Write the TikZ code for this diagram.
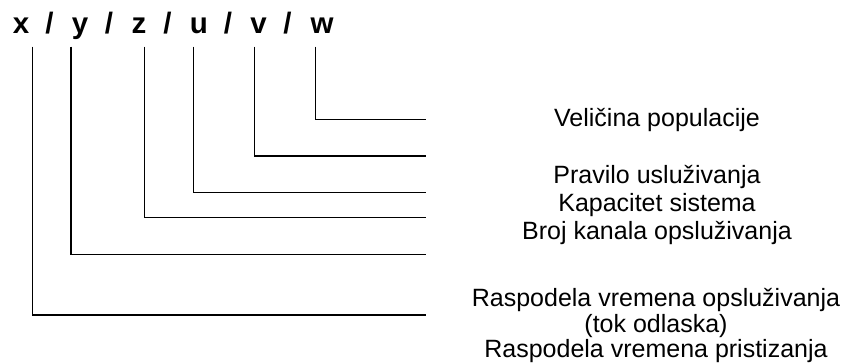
\documentclass[tikz,border=0pt]{standalone}
\usepackage{fontspec}
\setmainfont{Liberation Sans}
\begin{document}
\begin{tikzpicture}[x=1pt,y=-1pt,
  head/.style={inner sep=0pt,anchor=base,font=\fontsize{29.5}{32}\selectfont\bfseries},
  lab/.style={inner sep=0pt,anchor=base,font=\fontsize{25}{28.3}\selectfont},
  leader/.style={line width=1.3pt,line join=miter}]
\useasboundingbox (0,0) rectangle (845,363);
% header
\node[head] (hx) at (21,33.3) {x};
\node[head] (s1) at (49.5,33.3) {/};
\node[head] (hy) at (80,33.3) {y};
\node[head] (s2) at (109,33.3) {/};
\node[head] (hz) at (139,33.3) {z};
\node[head] (s3) at (167.5,33.3) {/};
\node[head] (hu) at (199,33.3) {u};
\node[head] (s4) at (228,33.3) {/};
\node[head] (hv) at (258.5,33.3) {v};
\node[head] (s5) at (287.5,33.3) {/};
\node[head] (hw) at (322,33.3) {w};
% line tops
\coordinate (tx) at (32.7,46.7);
\coordinate (ty) at (71,46.7);
\coordinate (tz) at (144.3,46.7);
\coordinate (tu) at (193.3,46.7);
\coordinate (tv) at (254.3,46.7);
\coordinate (tw) at (315.3,46.7);
% line ends
\coordinate (ew) at (426,119.7);
\coordinate (ev) at (426,156);
\coordinate (eu) at (426,192.7);
\coordinate (ez) at (426,217.3);
\coordinate (ey) at (426,254.3);
\coordinate (ex) at (426,315);
\draw[leader] (tw) |- (ew);
\draw[leader] (tv) |- (ev);
\draw[leader] (tu) |- (eu);
\draw[leader] (tz) |- (ez);
\draw[leader] (ty) |- (ey);
\draw[leader] (tx) |- (ex);
% labels
\node[lab] (lw) at (657,126.7) {Veličina populacije};
\node[lab] (lu) at (657,183.3) {Pravilo usluživanja};
\node[lab] (lz) at (657,211.7) {Kapacitet sistema};
\node[lab] (ly) at (657,239.7) {Broj kanala opsluživanja};
\node[lab] (lx1) at (656,306) {Raspodela vremena opsluživanja};
\node[lab] (lx2) at (656,332.5) {(tok odlaska)};
\node[lab] (lx3) at (656,357.5) {Raspodela vremena pristizanja};
\end{tikzpicture}
\end{document}
